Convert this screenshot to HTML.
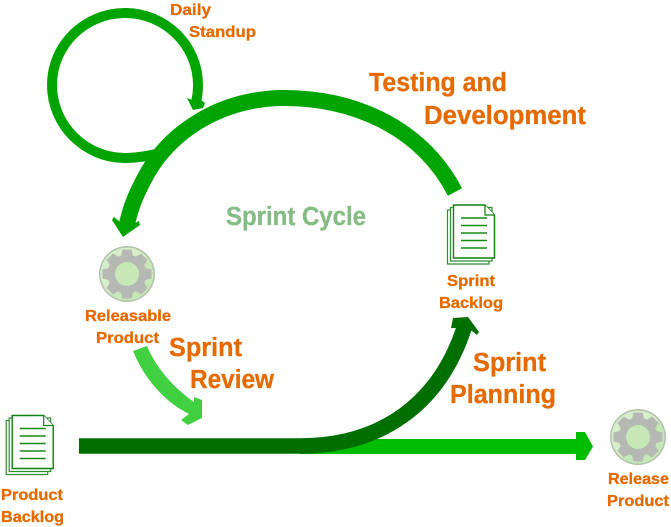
<!DOCTYPE html>
<html>
<head>
<meta charset="utf-8">
<style>
html,body{margin:0;padding:0;background:#fff;width:671px;height:527px;overflow:hidden}
svg{display:block}
text{font-family:"Liberation Sans",sans-serif;font-weight:bold;fill:#e56a00;stroke:#e56a00;stroke-width:.3px}
.s{font-size:16px}
.l{font-size:25.5px}
</style>
</head>
<body>
<svg width="671" height="527" viewBox="0 0 671 527" xmlns="http://www.w3.org/2000/svg">
<defs>
<g id="doc">
  <path d="M447.5 210H489V264H447.5Z" fill="#fff" stroke="#2f8f2f" stroke-width="1.2"/>
  <path d="M450.5 207.5H492V261H450.5Z" fill="#fff" stroke="#2f8f2f" stroke-width="1.2"/>
  <path d="M453.5 205H485L494.5 215V258H453.5Z" fill="#fff" stroke="#0f8010" stroke-width="1.4"/>
  <path d="M485 205V215H494.5" fill="#fff" stroke="#0f8010" stroke-width="1.2"/>
  <path d="M461 218H487M461 225.500H487M461 233H487M461 240.500H487M461 248H487" stroke="#158a15" stroke-width="1.5"/>
</g>
<g id="gear">
  <circle r="28" fill="#b2c0ac"/>
  <circle r="26.500" fill="#c6e8b6"/>
  <path d="M-26.500 -2A26.500 26.500 0 0 1 20 -17L-17 20A26.500 26.500 0 0 1 -26.500 -2Z" fill="#d6efca"/>
  <g fill="#b6b8b4">
    <circle r="19.500"/>
    <path d="M-6 -18L-4.500 -24.500H4.500L6 -18V18L4.500 24.500H-4.500L-6 18Z"/>
    <path d="M-6 -18L-4.500 -24.500H4.500L6 -18V18L4.500 24.500H-4.500L-6 18Z" transform="rotate(45)"/>
    <path d="M-6 -18L-4.500 -24.500H4.500L6 -18V18L4.500 24.500H-4.500L-6 18Z" transform="rotate(90)"/>
    <path d="M-6 -18L-4.500 -24.500H4.500L6 -18V18L4.500 24.500H-4.500L-6 18Z" transform="rotate(135)"/>
  </g>
  <circle r="12" fill="#c6e8b6"/>
</g>
</defs>

<!-- daily loop -->
<path d="M160 153C145 157 132 158 125 158C85 158 52 125 52 85C52 45 85 13 125 13C165 13 198 45 198 85C198 90 197.500 96 196 102" fill="none" stroke="#00a400" stroke-width="10"/>
<path d="M187 98L192 100H201L205 103L203 108L193 110Z" fill="#00a400"/>

<!-- main cycle arc -->
<path d="M455 192C420 125 350 97 280 98C215 100 170 135 148 172C138 190 131 205 127 224" fill="none" stroke="#00a400" stroke-width="16"/>
<path d="M112 220L114 217L120 222L135 223L139 221L140 225L123 237Z" fill="#00a400"/>

<!-- sprint review -->
<path d="M133 351L147 346C155 365 170 385 194 402L194 397L202 400V418L188 425L181 420L189 414C165 402 145 380 133 351Z" fill="#40d040"/>

<!-- release arrow -->
<path d="M300 439H576V432H585L593 446.500L585 460H576V454H300Z" fill="#00bd00"/>

<!-- planning arrow -->
<path d="M79 446H300C380 446 440 405 465 325" fill="none" stroke="#006f00" stroke-width="15.500"/>
<path d="M451 328L453 318L468 317L479 332L477 335L472 331L457 328Z" fill="#006f00"/>

<use href="#doc"/>
<use href="#doc" transform="translate(-441.300 210.500)"/>
<use href="#gear" transform="translate(127 274)"/>
<use href="#gear" transform="translate(638 437)"/>

<text class="s" x="170" y="15" textLength="41" lengthAdjust="spacingAndGlyphs">Daily</text>
<text class="s" x="189" y="37" textLength="67" lengthAdjust="spacingAndGlyphs">Standup</text>
<text class="l" x="369" y="91" textLength="138" lengthAdjust="spacingAndGlyphs">Testing and</text>
<text class="l" x="424" y="124" textLength="162" lengthAdjust="spacingAndGlyphs">Development</text>
<text class="l" x="226" y="225" textLength="140" lengthAdjust="spacingAndGlyphs" style="fill:#85bb85;stroke:#85bb85">Sprint Cycle</text>
<text class="s" x="447" y="286" textLength="48" lengthAdjust="spacingAndGlyphs">Sprint</text>
<text class="s" x="439" y="308" textLength="64" lengthAdjust="spacingAndGlyphs">Backlog</text>
<text class="s" x="85" y="321" textLength="86" lengthAdjust="spacingAndGlyphs">Releasable</text>
<text class="s" x="96" y="343" textLength="63" lengthAdjust="spacingAndGlyphs">Product</text>
<text class="l" x="169" y="356" textLength="73" lengthAdjust="spacingAndGlyphs">Sprint</text>
<text class="l" x="190" y="388" textLength="84" lengthAdjust="spacingAndGlyphs">Review</text>
<text class="l" x="473" y="371" textLength="73" lengthAdjust="spacingAndGlyphs">Sprint</text>
<text class="l" x="450" y="403" textLength="106" lengthAdjust="spacingAndGlyphs">Planning</text>
<text class="s" x="1" y="500" textLength="62" lengthAdjust="spacingAndGlyphs">Product</text>
<text class="s" x="1" y="522" textLength="63" lengthAdjust="spacingAndGlyphs">Backlog</text>
<text class="s" x="608" y="484" textLength="61" lengthAdjust="spacingAndGlyphs">Release</text>
<text class="s" x="607" y="506" textLength="62" lengthAdjust="spacingAndGlyphs">Product</text>
</svg>
</body>
</html>
